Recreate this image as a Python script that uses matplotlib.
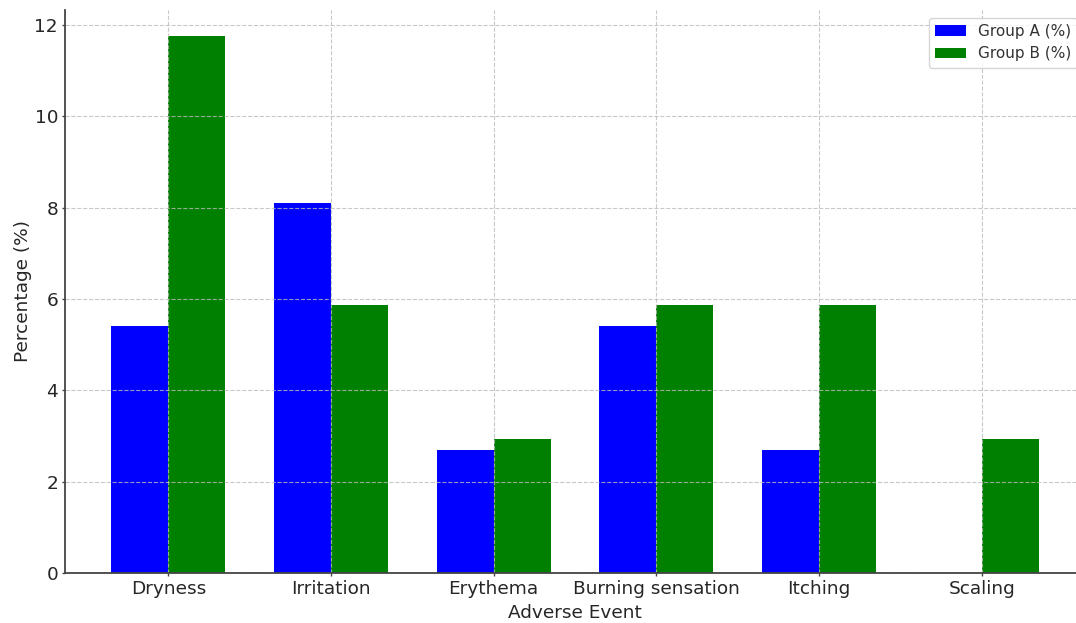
import matplotlib
matplotlib.use("Agg")
import matplotlib.pyplot as plt
import numpy as np

events = ["Dryness", "Irritation", "Erythema", "Burning sensation", "Itching", "Scaling"]
group_a = [5.41, 8.11, 2.70, 5.41, 2.70, 0.0]
group_b = [11.76, 5.88, 2.94, 5.88, 5.88, 2.94]

x = np.arange(len(events))
width = 0.35

fig = plt.figure(figsize=(10.76, 6.23), dpi=100)
ax = fig.add_axes([65/1076, 50/623, (1085-65)/1076, (573-10)/623])

ax.bar(x - width/2, group_a, width, color="blue", label="Group A (%)")
ax.bar(x + width/2, group_b, width, color="green", label="Group B (%)")

ax.set_xticks(x)
ax.set_xticklabels(events, fontsize=13.3, color="#262626")
ax.tick_params(axis="y", labelsize=13.3, labelcolor="#262626")
ax.tick_params(length=2.5, width=1.0, pad=2.5, color="#444444")
ax.set_xlabel("Adverse Event", fontsize=13.3, color="#262626", labelpad=4)
ax.set_ylabel("Percentage (%)", fontsize=13.3, color="#262626", labelpad=2)
ax.set_xlim(-0.635, 5.635)
ax.set_ylim(0, 12.33)

ax.grid(True, linestyle="--", color="#bbbbbb", alpha=0.8, linewidth=0.8)
for s in ["top", "right"]:
    ax.spines[s].set_visible(False)
for s in ["left", "bottom"]:
    ax.spines[s].set_color("#444444")
    ax.spines[s].set_linewidth(1.3)

leg = ax.legend(loc="upper right", fontsize=11, bbox_to_anchor=(1.0, 1.0))
for t in leg.get_texts():
    t.set_color("#333333")

fig.savefig("out.png", dpi=100)
